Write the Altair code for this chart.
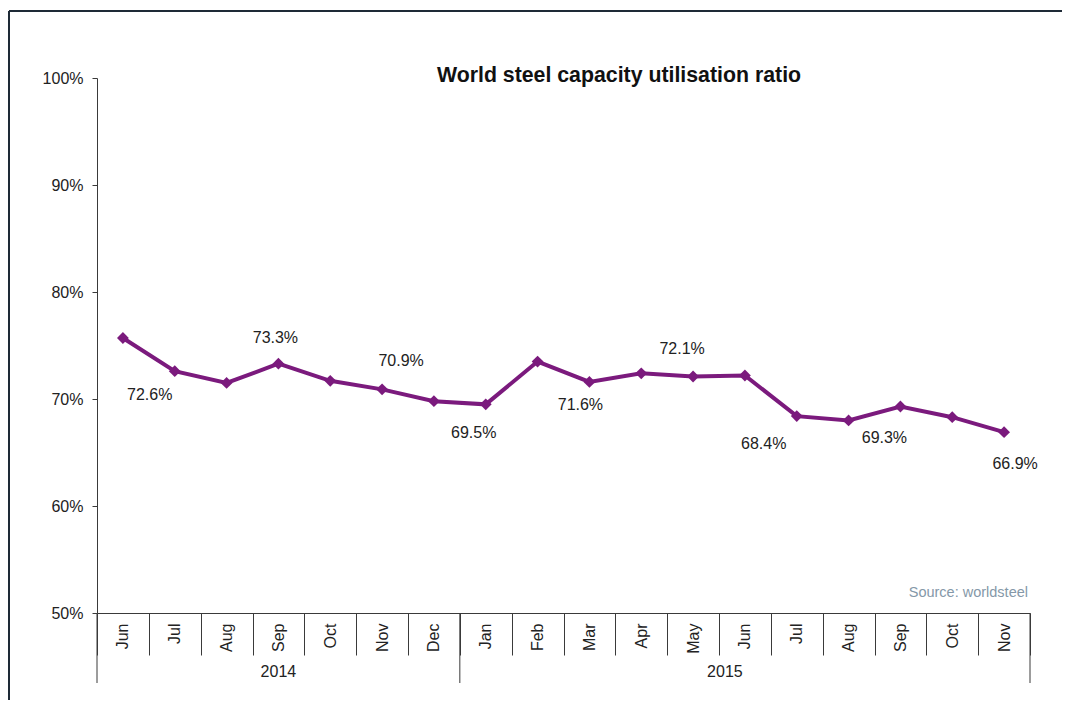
import altair as alt
import pandas as pd

MONTHS = ["Jun", "Jul", "Aug", "Sep", "Oct", "Nov", "Dec",
          "Jan", "Feb", "Mar", "Apr", "May", "Jun", "Jul", "Aug", "Sep", "Oct", "Nov"]
YEARS = [2014] * 7 + [2015] * 11
VALUES = [75.7, 72.6, 71.5, 73.3, 71.7, 70.9, 69.8,
          69.5, 73.5, 71.6, 72.4, 72.1, 72.2, 68.4, 68.0, 69.3, 68.3, 66.9]
Y_TICKS = [50, 60, 70, 80, 90, 100]

# which points carry a data label (index into the series)
LABEL_IDX = [1, 3, 5, 7, 9, 11, 13, 15, 17]
# label offsets (style): dx, dy in pixels
LABEL_OFFSETS = [(-25, 24), (-3, -26), (19, -28), (-12, 29), (-9, 23),
                 (-11, -28), (-33, 28), (-16, 32), (11, 32)]

TITLE = "World steel capacity utilisation  ratio"
SOURCE = "Source: worldsteel"

KEYS = [f"{m} {y}" for m, y in zip(MONTHS, YEARS)]
df = pd.DataFrame({"key": KEYS, "value": VALUES})

W, H = 933, 535
PURPLE = "#7b1a7d"
AXC = "#3a3a3a"
FONT = "Liberation Sans"

xscale = alt.Scale(type="band", domain=KEYS, paddingInner=0, paddingOuter=0)
yscale = alt.Scale(domain=[50, 100], nice=False)

base = alt.Chart(df)

line = base.mark_line(color=PURPLE, strokeWidth=4).encode(
    x=alt.X("key:N", scale=xscale, sort=KEYS,
            axis=alt.Axis(title=None, labelExpr="split(datum.label, ' ')[0]",
                          labelAngle=270, labelAlign="right", labelBaseline="middle",
                          tickBand="extent", tickSize=42, labelPadding=-32,
                          domainColor=AXC, tickColor=AXC, labelColor="#222",
                          labelFont=FONT, labelFontSize=16, grid=False)),
    y=alt.Y("value:Q", scale=yscale,
            axis=alt.Axis(title=None, values=Y_TICKS, labelExpr="datum.value + '%'",
                          tickSize=5, labelPadding=9, grid=False,
                          domainColor=AXC, tickColor=AXC, labelColor="#222",
                          labelFont=FONT, labelFontSize=16)),
)
points = base.mark_point(shape="diamond", filled=True, size=140, color=PURPLE, opacity=1).encode(
    x=alt.X("key:N", scale=xscale, sort=KEYS),
    y=alt.Y("value:Q", scale=yscale),
)

label_layers = []
for i, (dx, dy) in zip(LABEL_IDX, LABEL_OFFSETS):
    d = pd.DataFrame({"key": [KEYS[i]], "value": [VALUES[i]],
                      "txt": [f"{VALUES[i]:.1f}%"]})
    label_layers.append(
        alt.Chart(d).mark_text(dx=dx, dy=dy, font=FONT, fontSize=16, color="#222").encode(
            x=alt.X("key:N", scale=xscale, sort=KEYS),
            y=alt.Y("value:Q", scale=yscale),
            text="txt:N",
        )
    )

# long separators (year boundaries)
sep_df = pd.DataFrame({"key": [KEYS[0], KEYS[7]]})
seps = alt.Chart(sep_df).mark_rule(color=AXC, strokeWidth=1).encode(
    x=alt.X("key:N", scale=xscale, sort=KEYS, bandPosition=0),
    y=alt.value(H), y2=alt.value(H + 70),
)
sep_end = alt.Chart(pd.DataFrame({"key": [KEYS[-1]]})).mark_rule(color=AXC, strokeWidth=1).encode(
    x=alt.X("key:N", scale=xscale, sort=KEYS, bandPosition=1),
    y=alt.value(H), y2=alt.value(H + 70),
)

# year labels
year_df = pd.DataFrame({"key": [KEYS[3], KEYS[12]], "year": ["2014", "2015"]})
year_2014 = alt.Chart(year_df.iloc[[0]]).mark_text(font=FONT, fontSize=16, color="#222").encode(
    x=alt.X("key:N", scale=xscale, sort=KEYS), y=alt.value(H + 59), text="year:N")
year_2015 = alt.Chart(year_df.iloc[[1]]).mark_text(font=FONT, fontSize=16, color="#222", dx=-20).encode(
    x=alt.X("key:N", scale=xscale, sort=KEYS), y=alt.value(H + 59), text="year:N")

title = alt.Chart(pd.DataFrame({"t": [TITLE]})).mark_text(
    font=FONT, fontSize=21.3, fontWeight="bold", color="#111").encode(
    x=alt.value(522), y=alt.value(-2), text="t:N")

source = alt.Chart(pd.DataFrame({"t": [SOURCE]})).mark_text(
    font=FONT, fontSize=14.5, color="#8598a8", align="right").encode(
    x=alt.value(931), y=alt.value(515), text="t:N")

frame_top = alt.Chart(pd.DataFrame({"a": [0]})).mark_rule(color="#1e2a36", strokeWidth=2).encode(
    x=alt.value(-88), x2=alt.value(1100), y=alt.value(-67))
frame_left = alt.Chart(pd.DataFrame({"a": [0]})).mark_rule(color="#1e2a36", strokeWidth=2).encode(
    x=alt.value(-88), y=alt.value(-67), y2=alt.value(H + 200))

chart = alt.layer(
    frame_top, frame_left, seps, sep_end, line, points, *label_layers,
    year_2014, year_2015, title, source
).properties(
    width=W, height=H,
    background="white",
    autosize=alt.AutoSizeParams(type="none"),
    padding={"left": 89, "top": 70, "right": 32, "bottom": 87},
).configure_view(stroke=None)

chart.save("out.html", embed_options={"renderer": "svg", "actions": False})
